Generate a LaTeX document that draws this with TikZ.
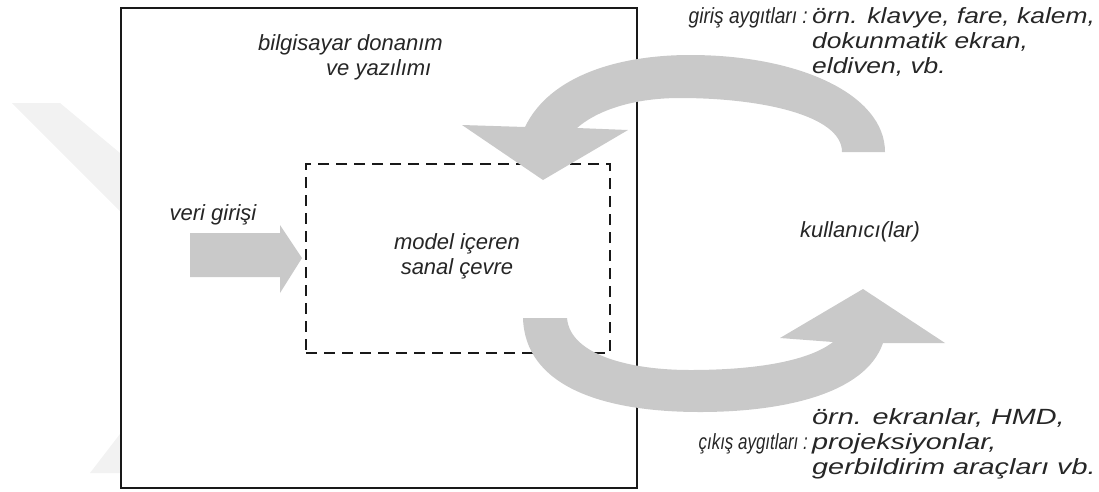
\documentclass[tikz,border=0pt]{standalone}
\usepackage{fontspec}
\usepackage{graphicx}
\setmainfont{Liberation Sans}
% a block of left-aligned lines, stretched horizontally by #1
\newcommand\widelines[2]{\scalebox{#1}[1]{\begin{tabular}{@{}l@{}}#2\end{tabular}}}
\begin{document}
\begin{tikzpicture}[x=1pt,y=-1pt,
  lbl/.style={font=\fontsize{22}{25}\selectfont\itshape, text=black!85, inner sep=0pt},
  flow/.style={fill=black!21, draw=none},
  frame/.style={draw=black!90, line width=2pt, fill=white},
  inner/.style={draw=black!90, line width=2pt, dash pattern=on 11pt off 7pt}]
  \useasboundingbox (0,0) rectangle (1099,491);
  % faint chevron behind the frame
  \fill[black!5] (12,103) -- (60,103) -- (150,178) -- (150,241) -- cycle;
  \fill[black!5] (90,473) -- (140,473) -- (140,408) -- cycle;
  % computer hardware/software frame and the virtual environment inside
  \node[frame, minimum width=516pt, minimum height=480pt, inner sep=0pt] (sys) at (379,248) {};
  \node[inner, minimum width=304pt, minimum height=189pt, inner sep=0pt] (env) at (458,258.5) {};
  % data input arrow
  \fill[flow] (190,233) -- (280,233) -- (280,225) -- (302,258) -- (280,293) -- (280,277) -- (190,277) -- cycle;
  % input devices: curved arrow from the user back into the environment
  \fill[flow] (462,125) -- (525,127)
     .. controls (550,75) and (620,55) .. (690,55)
     .. controls (800,55) and (885,95) .. (885,152)
     -- (842,152)
     .. controls (842,115) and (760,98) .. (680,98)
     .. controls (630,98) and (595,112) .. (577,128)
     -- (628,130) -- (543,180) -- cycle;
  % output devices: curved arrow from the environment out to the user
  \fill[flow] (523,318) -- (567,318)
     .. controls (570,355) and (630,370) .. (690,370)
     .. controls (760,370) and (810,360) .. (833,342)
     -- (780,338) -- (863,289) -- (945,343) -- (883,343)
     .. controls (865,395) and (780,412) .. (700,412)
     .. controls (600,412) and (525,385) .. (523,318) -- cycle;
  % labels
  \node[lbl, align=left, anchor=west] (hw) at (258,57) {bilgisayar donanım\\\hspace*{68pt}ve yazılımı};
  \node[lbl] (data) at (213,215) {veri girişi};
  \node[lbl, align=center] (model) at (457,256) {model içeren\\sanal çevre};
  \node[lbl] (user) at (860,232) {kullanıcı(lar)};
  \node[lbl, anchor=east] (inlbl) at (808,18) {\scalebox{0.87}[1]{giriş aygıtları :}};
  \node[lbl, anchor=west] (indev) at (812,43) {\widelines{1.2}{örn. klavye, fare, kalem,\\dokunmatik ekran,\\eldiven, vb.}};
  \node[lbl, anchor=east] (outlbl) at (808,444) {\scalebox{0.77}[1]{çıkış aygıtları :}};
  \node[lbl, anchor=west] (outdev) at (812,444) {\widelines{1.31}{örn. ekranlar, HMD,\\projeksiyonlar,\\gerbildirim araçları vb.}};
\end{tikzpicture}
\end{document}
